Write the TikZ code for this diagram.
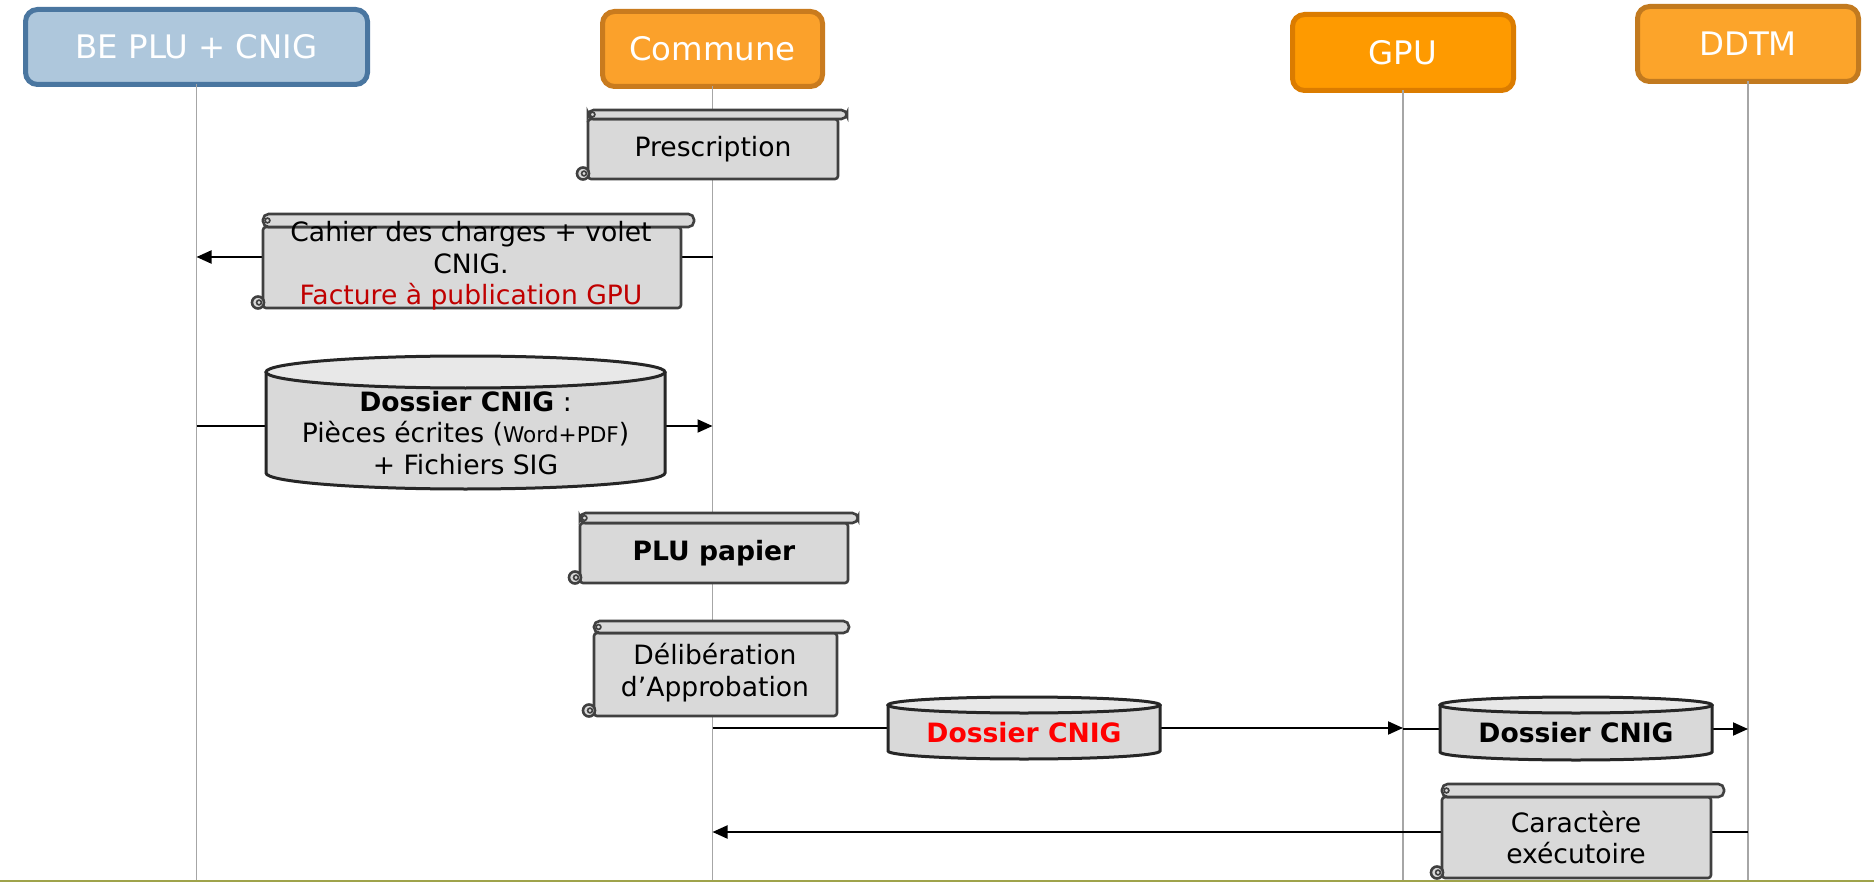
\documentclass[tikz,border=0pt]{standalone}
\usepackage{fontspec}
\setmainfont{DejaVu Sans}
\usetikzlibrary{arrows.meta,calc}
\definecolor{befill}{HTML}{AEC7DC}
\definecolor{bedraw}{HTML}{4A76A0}
\definecolor{comfill}{HTML}{FBA12B}
\definecolor{comdraw}{HTML}{C97B1E}
\definecolor{gpufill}{HTML}{FE9A00}
\definecolor{gpudraw}{HTML}{DB7C00}
\definecolor{ddtmfill}{HTML}{FCA42A}
\definecolor{ddtmdraw}{HTML}{C27A1F}
\definecolor{boxfill}{HTML}{D9D9D9}
\definecolor{boxline}{HTML}{404040}
\definecolor{cyltop}{HTML}{E8E8E8}
\definecolor{cylline}{HTML}{262626}
\definecolor{lifegray}{HTML}{A6A6A6}
\definecolor{darkred}{HTML}{C00000}
\definecolor{brightred}{HTML}{FF0000}
\definecolor{olivec}{HTML}{9FA34B}

\newcommand\scrolldeco[2]{%
  \draw[rollstyle] ($(#1.north west)+(0,-#2)$) rectangle ($(#1.north east)+(#2,0)$);
  \draw[boxline, line width=0.8pt] ($(#1.north west)+(4.5,-#2/2)$) circle[radius=2.4];
  \draw[rollstyle, rounded corners=0pt] ($(#1.south west)+(-5,-5.5)$) circle[radius=6];
  \draw[boxline, line width=0.8pt] ($(#1.south west)+(-4,-5.5)$) circle[radius=2.4];
}
\newcommand\drawcyl[5]{%
  \pgfmathsetmacro\cylcx{(#1+#2)/2}%
  \pgfmathsetmacro\cylrx{(#2-#1)/2}%
  \fill[boxfill] (#1,#3+#5) -- (#1,#4-#5) arc[start angle=180,end angle=0,x radius=\cylrx,y radius=#5] -- (#2,#3+#5) -- cycle;
  \draw[cylstyle] (#1,#3+#5) -- (#1,#4-#5) arc[start angle=180,end angle=0,x radius=\cylrx,y radius=#5] -- (#2,#3+#5);
  \filldraw[cylstyle, fill=cyltop] (\cylcx,#3+#5) ellipse[x radius=\cylrx, y radius=#5];
}

\begin{document}
\begin{tikzpicture}[x=0.5pt,y=-0.5pt,
  header/.style={draw, line width=2.5pt, rounded corners=6pt, text=white, font=\fontsize{16.2}{19}\selectfont, inner sep=0pt, outer sep=0pt},
  life/.style={draw=lifegray, line width=0.7pt},
  msg/.style={draw=black, line width=1pt, -{Triangle[length=7.5pt,width=6.5pt]}},
  scrollbody/.style={draw=boxline, fill=boxfill, line width=1.3pt, rounded corners=1.5pt, inner sep=0pt, outer sep=0pt, align=center, font=\fontsize{13.3}{15.5}\selectfont},
  rollstyle/.style={draw=boxline, fill=boxfill, line width=1.3pt, rounded corners=2.8pt},
  cylstyle/.style={draw=cylline, line width=1.5pt},
  txt/.style={inner sep=0pt, align=center, font=\fontsize{13.3}{15.7}\selectfont}
]
\fill[white] (0,0) rectangle (1874,882);
\useasboundingbox (0,0) rectangle (1874,882);

% headers
\node[header, fill=befill, draw=bedraw, minimum width=171pt, minimum height=37.5pt] (be) at (196.5,47) {BE PLU + CNIG};
\node[header, fill=comfill, draw=comdraw, minimum width=110pt, minimum height=37.5pt] (com) at (712.5,49) {Commune};
\node[header, fill=gpufill, draw=gpudraw, minimum width=110.5pt, minimum height=38pt] (gpu) at (1403,52.5) {GPU};
\node[header, fill=ddtmfill, draw=ddtmdraw, minimum width=110.5pt, minimum height=37.5pt] (ddtm) at (1748,44) {DDTM};

% lifelines
\coordinate (beBot) at (be.south |- 0,882);
\coordinate (comBot) at (com.south |- 0,882);
\coordinate (gpuBot) at (gpu.south |- 0,882);
\coordinate (ddtmBot) at (ddtm.south |- 0,882);
\draw[life] (be.south) -- (beBot);
\draw[life] (com.south) -- (comBot);
\draw[life] (gpu.south) -- (gpuBot);
\draw[life] (ddtm.south) -- (ddtmBot);

% message coordinates
\coordinate (m1a) at (com.south |- 0,257);
\coordinate (m1b) at (be.south |- 0,257);
\coordinate (m2a) at (be.south |- 0,426);
\coordinate (m2b) at (com.south |- 0,426);
\coordinate (m3a) at (com.south |- 0,728);
\coordinate (m3b) at (gpu.south |- 0,728);
\coordinate (m4a) at (gpu.south |- 0,729);
\coordinate (m4b) at (ddtm.south |- 0,729);
\coordinate (m5a) at (ddtm.south |- 0,832);
\coordinate (m5b) at (com.south |- 0,832);
\draw[msg] (m1a) -- (m1b);
\draw[msg] (m2a) -- (m2b);
\draw[msg] (m3a) -- (m3b);
\draw[msg] (m4a) -- (m4b);
\draw[msg] (m5a) -- (m5b);

% scrolls
\node[scrollbody, minimum width=125pt, minimum height=30pt] (presc) at (713,149) {Prescription};
\scrolldeco{presc}{9}
\node[scrollbody, minimum width=209pt, minimum height=40.5pt] (cahier) at (472,267.5) {};
\scrolldeco{cahier}{13}
\node[txt] (cahiertxt) at (471,266) {Cahier des charges + volet\\CNIG.\\\textcolor{darkred}{Facture à publication GPU}};
\node[scrollbody, minimum width=134pt, minimum height=30pt] (plu) at (714,553) {\bfseries PLU papier};
\scrolldeco{plu}{10}
\node[scrollbody, minimum width=121.5pt, minimum height=41.5pt] (delib) at (715.5,674.5) {};
\scrolldeco{delib}{12}
\node[txt] (delibtxt) at (715,672.5) {Délibération\\d’Approbation};
\node[scrollbody, minimum width=134.5pt, minimum height=40.5pt] (carac) at (1576.5,837.5) {};
\scrolldeco{carac}{13}
\node[txt] (caractxt) at (1576,837.5) {Caractère\\exécutoire};

% cylinders
\drawcyl{266}{665}{356}{489}{16}
\node[txt] (dos1) at (465.5,433) {\textbf{Dossier CNIG} :\\Pièces écrites ({\fontsize{10.8}{12}\selectfont Word+PDF})\\+ Fichiers SIG};
\drawcyl{888}{1160}{697}{759}{8}
\node[txt, text=brightred] (dos2) at (1024,733) {\bfseries Dossier CNIG};
\drawcyl{1440}{1712}{697}{760}{8}
\node[txt] (dos3) at (1576,733) {\bfseries Dossier CNIG};

% bottom line
\draw[olivec, line width=1pt] (0,881) -- (1874,881);
\end{tikzpicture}
\end{document}
